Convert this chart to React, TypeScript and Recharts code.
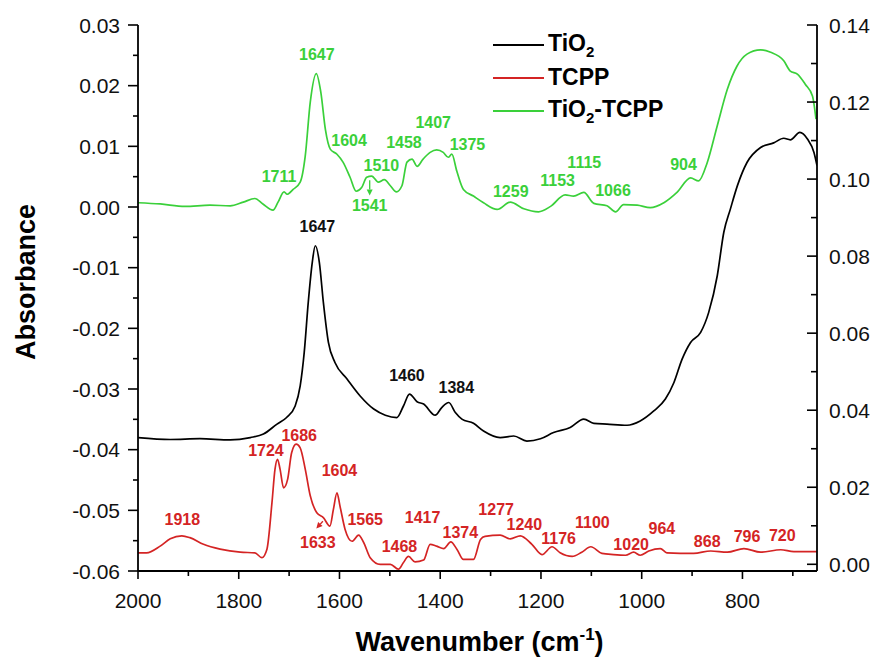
import React from "react"
import {
  LineChart,
  Line,
  XAxis,
  YAxis,
  ReferenceDot,
  ReferenceLine,
  Legend,
} from "recharts"

const FONT = "'Liberation Sans', Arial, Helvetica, sans-serif"
const BLACK = "#000000"
const RED = "#d42424"
const GREEN = "#3ad03a"

// TiO2 (right axis)
const TIO2_WN = [
  2000, 1936, 1877, 1817, 1777, 1751, 1724, 1705, 1688, 1678, 1670, 1662, 1654, 1648, 1640, 1632, 1622,
  1609, 1585, 1559, 1532, 1509, 1486, 1473, 1461, 1446, 1433, 1410, 1397, 1383, 1370, 1357, 1334, 1314,
  1281, 1254, 1228, 1201, 1175, 1142, 1115, 1095, 1069, 1029, 1003, 976, 953, 936, 920, 903, 883, 867,
  850, 837, 824, 810, 791, 764, 738, 718, 705, 686, 671, 658, 652,
]
const TIO2_ABS = [
  0.0329, 0.0324, 0.0326, 0.0323, 0.0329, 0.0338, 0.0364, 0.0381, 0.0411, 0.0463, 0.055, 0.068, 0.0784,
  0.0827, 0.0784, 0.068, 0.0576, 0.0524, 0.0481, 0.0437, 0.0403, 0.0387, 0.0381, 0.0411, 0.0442, 0.0422,
  0.0416, 0.0387, 0.0407, 0.042, 0.0394, 0.0377, 0.0366, 0.0346, 0.0329, 0.0333, 0.032, 0.0326, 0.0342,
  0.0355, 0.0377, 0.0366, 0.0364, 0.0361, 0.0372, 0.0398, 0.0429, 0.0472, 0.0532, 0.0576, 0.0602, 0.0654,
  0.0749, 0.0862, 0.0922, 0.0983, 0.1043, 0.1082, 0.1094, 0.1106, 0.1102, 0.1121, 0.1104, 0.1069, 0.1035,
]

// TCPP (left axis)
const TCPP_WN = [
  2000, 1983, 1956, 1936, 1913, 1897, 1870, 1837, 1797, 1768, 1754, 1744, 1734, 1728, 1723, 1718, 1711,
  1703, 1695, 1686, 1678, 1668, 1658, 1645, 1632, 1619, 1612, 1605, 1599, 1589, 1575, 1562, 1552, 1539,
  1519, 1499, 1483, 1473, 1463, 1450, 1433, 1420, 1407, 1393, 1379, 1367, 1354, 1334, 1320, 1311, 1281,
  1261, 1241, 1218, 1198, 1178, 1162, 1138, 1119, 1101, 1079, 1056, 1032, 1016, 1003, 986, 963, 950, 897,
  863, 830, 797, 764, 724, 698, 652,
]
const TCPP_ABS = [
  -0.057, -0.057, -0.0559, -0.0547, -0.0542, -0.0545, -0.0556, -0.0564, -0.0569, -0.057, -0.0578, -0.0564,
  -0.0487, -0.0432, -0.0416, -0.0432, -0.0463, -0.0449, -0.0405, -0.0391, -0.0397, -0.0432, -0.0476,
  -0.0504, -0.0512, -0.0526, -0.0498, -0.0471, -0.0493, -0.0531, -0.0551, -0.0541, -0.0553, -0.0578,
  -0.0589, -0.0589, -0.0597, -0.0586, -0.0576, -0.0585, -0.0582, -0.0556, -0.0559, -0.0563, -0.0552,
  -0.0564, -0.0581, -0.0581, -0.0548, -0.0543, -0.0541, -0.0547, -0.0542, -0.0556, -0.0573, -0.056,
  -0.057, -0.0576, -0.0569, -0.056, -0.0571, -0.0573, -0.0574, -0.0569, -0.0574, -0.0567, -0.0563,
  -0.057, -0.0571, -0.0567, -0.0569, -0.0563, -0.0569, -0.0565, -0.0568, -0.0568,
]

// TiO2-TCPP (left axis)
const MIX_WN = [
  2000, 1956, 1907, 1857, 1817, 1791, 1768, 1752, 1732, 1722, 1710, 1704, 1692, 1678, 1668, 1658, 1646,
  1637, 1628, 1618, 1605, 1593, 1579, 1567, 1556, 1546, 1536, 1523, 1511, 1499, 1487, 1476, 1466, 1456,
  1446, 1434, 1420, 1407, 1394, 1384, 1377, 1367, 1354, 1334, 1314, 1287, 1261, 1234, 1205, 1181, 1152,
  1135, 1115, 1095, 1069, 1052, 1036, 1009, 983, 956, 930, 903, 887, 870, 850, 830, 811, 791, 764, 744,
  718, 705, 691, 675, 661, 654,
]
const MIX_ABS = [
  0.0007, 0.0005, 0.0001, 0.0003, 0.0002, 0.0008, 0.0014, 0.0005, -0.0005, 0.0008, 0.0025, 0.0021, 0.0029,
  0.0041, 0.0084, 0.0173, 0.022, 0.0189, 0.0128, 0.0095, 0.0087, 0.0074, 0.0049, 0.0026, 0.0032, 0.0049,
  0.0051, 0.0041, 0.0045, 0.0035, 0.0025, 0.0035, 0.0074, 0.0079, 0.0067, 0.0079, 0.009, 0.0094, 0.009,
  0.0082, 0.0087, 0.0059, 0.0029, 0.0018, 0.0007, -0.0004, 0.0008, -0.0003, -0.0008, 0.0001, 0.002,
  0.0018, 0.0024, 0.0006, 0.0002, -0.0008, 0.0004, 0.0003, -0.0001, 0.0007, 0.0024, 0.0048, 0.0043,
  0.0073, 0.0134, 0.0194, 0.0232, 0.0252, 0.0259, 0.0255, 0.0241, 0.0224, 0.0219, 0.0202, 0.0183, 0.0145,
]

const X_TICKS = [2000, 1900, 1800, 1700, 1600, 1500, 1400, 1300, 1200, 1100, 1000, 900, 800, 700]
const LEFT_TICKS = [
  -0.06, -0.055, -0.05, -0.045, -0.04, -0.035, -0.03, -0.025, -0.02, -0.015, -0.01, -0.005, 0, 0.005, 0.01,
  0.015, 0.02, 0.025, 0.03,
]
const RIGHT_TICKS = [0, 0.01, 0.02, 0.03, 0.04, 0.05, 0.06, 0.07, 0.08, 0.09, 0.1, 0.11, 0.12, 0.13, 0.14]

// peak annotations, anchored in left-axis units
const MIX_PEAKS = [
  { text: "1647", w: 1645, v: 0.0252 },
  { text: "1711", w: 1720, v: 0.0051 },
  { text: "1604", w: 1581, v: 0.011 },
  { text: "1510", w: 1517, v: 0.0068 },
  { text: "1541", w: 1540, v: 0.0003 },
  { text: "1458", w: 1472, v: 0.0106 },
  { text: "1407", w: 1414, v: 0.014 },
  { text: "1375", w: 1346, v: 0.0103 },
  { text: "1259", w: 1260, v: 0.0026 },
  { text: "1153", w: 1167, v: 0.0043 },
  { text: "1115", w: 1114, v: 0.0073 },
  { text: "1066", w: 1057, v: 0.0028 },
  { text: "904", w: 917, v: 0.007 },
]
const TIO2_PEAKS = [
  { text: "1647", w: 1644, v: -0.0032 },
  { text: "1460", w: 1466, v: -0.0277 },
  { text: "1384", w: 1368, v: -0.0298 },
]
const TCPP_PEAKS = [
  { text: "1918", w: 1912, v: -0.0515 },
  { text: "1724", w: 1746, v: -0.0402 },
  { text: "1686", w: 1680, v: -0.0376 },
  { text: "1604", w: 1600, v: -0.0435 },
  { text: "1633", w: 1643, v: -0.0553 },
  { text: "1565", w: 1549, v: -0.0515 },
  { text: "1468", w: 1481, v: -0.0559 },
  { text: "1417", w: 1435, v: -0.0512 },
  { text: "1374", w: 1360, v: -0.0536 },
  { text: "1277", w: 1289, v: -0.0498 },
  { text: "1240", w: 1233, v: -0.0523 },
  { text: "1176", w: 1165, v: -0.0547 },
  { text: "1100", w: 1098, v: -0.052 },
  { text: "1020", w: 1021, v: -0.0556 },
  { text: "964", w: 960, v: -0.053 },
  { text: "868", w: 870, v: -0.0552 },
  { text: "796", w: 791, v: -0.0543 },
  { text: "720", w: 721, v: -0.0542 },
]
const ARROWS = [
  { color: GREEN, from: { x: 1540, y: 0.0044 }, to: { x: 1540, y: 0.0019 } },
  { color: RED, from: { x: 1633, y: -0.0518 }, to: { x: 1646, y: -0.053 } },
]

const toRows = (wn: number[], abs: number[]) => wn.map((w, i) => ({ w, a: abs[i] }))
const tio2Data = toRows(TIO2_WN, TIO2_ABS)
const tcppData = toRows(TCPP_WN, TCPP_ABS)
const mixData = toRows(MIX_WN, MIX_ABS)

const isMultiple = (v: number, step: number) => Math.abs(v / step - Math.round(v / step)) < 1e-6

const XTick = (props: any) => {
  const { x, y, payload } = props
  const v = payload.value as number
  const major = isMultiple(v, 200)
  return (
    <g>
      <line x1={x} x2={x} y1={y} y2={y + (major ? 8 : 5)} stroke="#000" strokeWidth={1.6} />
      {major && (
        <text x={x} y={y + 29} textAnchor="middle" dominantBaseline="central" fontSize={21} fontFamily={FONT} fill="#111">
          {v}
        </text>
      )}
    </g>
  )
}

const LeftTick = (props: any) => {
  const { x, y, payload } = props
  const v = payload.value as number
  const major = isMultiple(v, 0.01)
  return (
    <g>
      <line x1={x} x2={x - (major ? 10 : 5)} y1={y} y2={y} stroke="#000" strokeWidth={1.6} />
      {major && (
        <text x={x - 18} y={y} textAnchor="end" dominantBaseline="central" fontSize={21} fontFamily={FONT} fill="#111">
          {Math.abs(v) < 1e-9 ? "0.00" : v.toFixed(2)}
        </text>
      )}
    </g>
  )
}

const RightTick = (props: any) => {
  const { x, y, payload } = props
  const v = payload.value as number
  const major = isMultiple(v, 0.02)
  return (
    <g>
      <line x1={x} x2={x - (major ? 10 : 6)} y1={y} y2={y} stroke="#000" strokeWidth={1.6} />
      {major && (
        <text x={x + 12} y={y} textAnchor="start" dominantBaseline="central" fontSize={21} fontFamily={FONT} fill="#111">
          {v.toFixed(2)}
        </text>
      )}
    </g>
  )
}

const XTitle = (props: any) => {
  const vb = props.viewBox ?? { x: 138, y: 571, width: 679, height: 88 }
  return (
    <text x={vb.x + vb.width / 2 + 2} y={vb.y + 80} textAnchor="middle" fontSize={27} fontWeight="bold" fontFamily={FONT} fill="#000">
      Wavenumber (cm
      <tspan fontSize={17} dy={-11}>-1</tspan>
      <tspan dy={11}>)</tspan>
    </text>
  )
}

const YTitle = (props: any) => {
  const vb = props.viewBox ?? { x: 0, y: 25, width: 138, height: 546 }
  const cx = vb.x + 35
  const cy = vb.y + vb.height / 2 - 16
  return (
    <text x={cx} y={cy} transform={`rotate(-90, ${cx}, ${cy})`} textAnchor="middle" fontSize={27} fontWeight="bold" fontFamily={FONT} fill="#000">
      Absorbance
    </text>
  )
}

const LEGEND_ITEMS = [
  { color: BLACK, label: <>TiO<sub style={{ fontSize: 15, verticalAlign: "baseline", position: "relative", top: 6 }}>2</sub></> },
  { color: RED, label: <>TCPP</> },
  { color: GREEN, label: <>TiO<sub style={{ fontSize: 15, verticalAlign: "baseline", position: "relative", top: 6 }}>2</sub>-TCPP</> },
]

const LegendBox = () => (
  <div style={{ fontFamily: FONT, fontWeight: "bold", fontSize: 23, color: "#000" }}>
    {LEGEND_ITEMS.map((item, i) => (
      <div key={i} style={{ display: "flex", alignItems: "center", height: 33 }}>
        <div style={{ width: 51, height: 2, background: item.color, marginRight: 4 }} />
        <span style={{ lineHeight: "33px" }}>{item.label}</span>
      </div>
    ))}
  </div>
)

const peakDots = (peaks: { text: string; w: number; v: number }[], color: string, key: string) =>
  peaks.map((p, i) => (
    <ReferenceDot
      key={`${key}-${i}`}
      x={p.w}
      y={p.v}
      yAxisId="left"
      r={0}
      ifOverflow="visible"
      shape={(s: any) => (
        <text x={s.cx} y={s.cy} textAnchor="middle" dominantBaseline="central" fontSize={16} fontWeight="bold" fontFamily={FONT} fill={color}>
          {p.text}
        </text>
      )}
    />
  ))

const Arrow = (color: string) => (s: any) => {
  const { x1, y1, x2, y2 } = s
  const dx = x2 - x1
  const dy = y2 - y1
  const len = Math.hypot(dx, dy) || 1
  const ux = dx / len
  const uy = dy / len
  const hl = 6
  const hw = 3
  const bx = x2 - ux * hl
  const by = y2 - uy * hl
  return (
    <g>
      <line x1={x1} y1={y1} x2={bx} y2={by} stroke={color} strokeWidth={1.3} />
      <polygon points={`${x2},${y2} ${bx - uy * hw},${by + ux * hw} ${bx + uy * hw},${by - ux * hw}`} fill={color} />
    </g>
  )
}

export default function App() {
  return (
    <div style={{ position: "absolute", left: 0, top: 0, background: "#fff" }}>
      <LineChart width={876} height={659} margin={{ top: 25, right: 0, bottom: 0, left: 0 }}>
        <XAxis
          dataKey="w"
          type="number"
          domain={[652, 2000]}
          reversed
          allowDataOverflow
          ticks={X_TICKS}
          interval={0}
          tick={<XTick />}
          tickLine={false}
          tickSize={0}
          tickMargin={0}
          height={88}
          axisLine={{ stroke: "#000", strokeWidth: 1.8 }}
          label={{ content: XTitle }}
        />
        <XAxis
          xAxisId="top"
          orientation="top"
          type="number"
          domain={[652, 2000]}
          reversed
          tick={false}
          tickLine={false}
          height={0}
          axisLine={{ stroke: "#000", strokeWidth: 1.8 }}
        />
        <YAxis
          yAxisId="left"
          type="number"
          domain={[-0.06, 0.03]}
          allowDataOverflow
          ticks={LEFT_TICKS}
          interval={0}
          tick={<LeftTick />}
          tickLine={false}
          tickSize={0}
          tickMargin={0}
          width={138}
          axisLine={{ stroke: "#000", strokeWidth: 1.8 }}
          label={{ content: YTitle }}
        />
        <YAxis
          yAxisId="right"
          orientation="right"
          type="number"
          domain={[-0.00174, 0.14]}
          allowDataOverflow
          ticks={RIGHT_TICKS}
          interval={0}
          tick={<RightTick />}
          tickLine={false}
          tickSize={0}
          tickMargin={0}
          width={59}
          axisLine={{ stroke: "#000", strokeWidth: 1.8 }}
        />
        <Legend
          layout="vertical"
          align="center"
          verticalAlign="middle"
          content={<LegendBox />}
          wrapperStyle={{ left: 493, top: 28, width: 240 }}
        />
        <Line data={tcppData} dataKey="a" yAxisId="left" name="TCPP" type="monotone" stroke={RED} strokeWidth={1.7} dot={false} isAnimationActive={false} />
        <Line data={tio2Data} dataKey="a" yAxisId="right" name="TiO2" type="monotone" stroke={BLACK} strokeWidth={1.7} dot={false} isAnimationActive={false} />
        <Line data={mixData} dataKey="a" yAxisId="left" name="TiO2-TCPP" type="monotone" stroke={GREEN} strokeWidth={1.7} dot={false} isAnimationActive={false} />
        {peakDots(MIX_PEAKS, GREEN, "mix")}
        {peakDots(TIO2_PEAKS, "#111", "tio2")}
        {peakDots(TCPP_PEAKS, RED, "tcpp")}
        {ARROWS.map((a, i) => (
          <ReferenceLine key={`arrow-${i}`} yAxisId="left" segment={[a.from, a.to]} ifOverflow="visible" shape={Arrow(a.color)} />
        ))}
      </LineChart>
    </div>
  )
}
